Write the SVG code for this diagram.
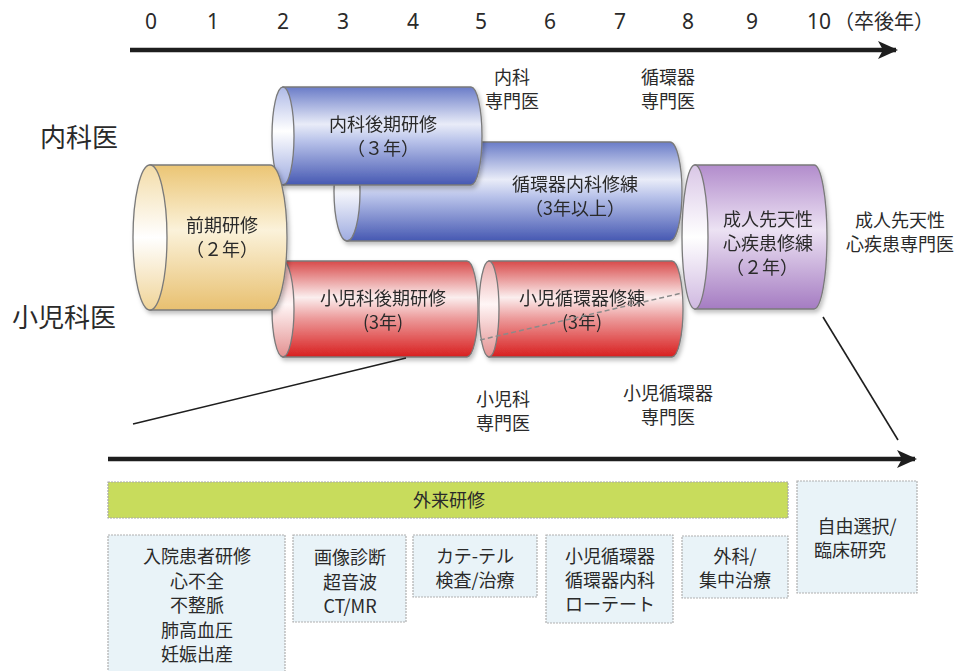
<svg xmlns="http://www.w3.org/2000/svg" width="964" height="671" viewBox="0 0 964 671">
<style>
text{font-family:"Noto Sans CJK JP","Noto Sans",sans-serif;fill:#2a2a2a;text-anchor:middle}
.num{font-size:21px;font-family:"Noto Sans","Liberation Sans",sans-serif}
.lbl{font-size:18px}
.big{font-size:26px;text-anchor:start}
.cyl{stroke:#7a7a7a;stroke-width:1.3}
.box{fill:#e9f3f8;stroke:#b0b0b0;stroke-width:1.2;stroke-dasharray:2 1}
.ax{stroke:#1e1e1e;stroke-width:4.5;fill:none}
.zl{stroke:#1e1e1e;stroke-width:1.6;fill:none}
.dash{stroke:#8a8a8a;stroke-width:1.5;stroke-dasharray:5 3;fill:none}
</style>
<defs>
<linearGradient id="gB" x1="0" y1="0" x2="0" y2="1"><stop offset="0" stop-color="#6a7cc8"/><stop offset="0.38" stop-color="#e9ecf8"/><stop offset="0.55" stop-color="#b9c3ea"/><stop offset="1" stop-color="#4658b2"/></linearGradient>
<linearGradient id="gBf" x1="0" y1="0" x2="0" y2="1"><stop offset="0" stop-color="#aeb9e6"/><stop offset="0.45" stop-color="#ffffff"/><stop offset="1" stop-color="#9eabe0"/></linearGradient>
<linearGradient id="gR" x1="0" y1="0" x2="0" y2="1"><stop offset="0" stop-color="#d84a4a"/><stop offset="0.38" stop-color="#fbeeee"/><stop offset="0.6" stop-color="#ec9a9a"/><stop offset="1" stop-color="#d81e1e"/></linearGradient>
<linearGradient id="gRf" x1="0" y1="0" x2="0" y2="1"><stop offset="0" stop-color="#e8a8a8"/><stop offset="0.45" stop-color="#fff6f6"/><stop offset="1" stop-color="#e39090"/></linearGradient>
<linearGradient id="gY" x1="0" y1="0" x2="0" y2="1"><stop offset="0" stop-color="#ebc574"/><stop offset="0.45" stop-color="#fbf2da"/><stop offset="1" stop-color="#e8c070"/></linearGradient>
<linearGradient id="gYf" x1="0" y1="0" x2="0" y2="1"><stop offset="0" stop-color="#f3dca8"/><stop offset="0.5" stop-color="#ffffff"/><stop offset="1" stop-color="#f0d498"/></linearGradient>
<linearGradient id="gP" x1="0" y1="0" x2="0" y2="1"><stop offset="0" stop-color="#b28ccc"/><stop offset="0.45" stop-color="#ece2f3"/><stop offset="1" stop-color="#a57cc2"/></linearGradient>
<linearGradient id="gPf" x1="0" y1="0" x2="0" y2="1"><stop offset="0" stop-color="#d9c6e6"/><stop offset="0.5" stop-color="#ffffff"/><stop offset="1" stop-color="#cfb8e0"/></linearGradient>
<filter id="sh" x="-5%" y="-5%" width="115%" height="120%"><feDropShadow dx="2" dy="3" stdDeviation="2" flood-color="#000" flood-opacity="0.25"/></filter>
<marker id="ah" viewBox="0 0 20 20" markerUnits="userSpaceOnUse" markerWidth="20" markerHeight="20" refX="18" refY="10" orient="auto"><path d="M0,1 L20,10 L0,19 L5,10 Z" fill="#1e1e1e"/></marker>
</defs>

<g id="axis-labels">
<text class="num" x="151" y="29">0</text>
<text class="num" x="213" y="29">1</text>
<text class="num" x="283" y="29">2</text>
<text class="num" x="343" y="29">3</text>
<text class="num" x="413" y="29">4</text>
<text class="num" x="481" y="29">5</text>
<text class="num" x="550" y="29">6</text>
<text class="num" x="620" y="29">7</text>
<text class="num" x="688" y="29">8</text>
<text class="num" x="752" y="29">9</text>
<text class="num" x="819" y="29">10</text>
<text x="884" y="29" style="font-size:20px">（卒後年）</text>
</g>

<g id="row-labels">
<text class="big" x="40" y="147">内科医</text>
<text class="big" x="12" y="327">小児科医</text>
</g>

<g id="cyl-junkan" filter="url(#sh)">
<path class="cyl" fill="url(#gB)" d="M347,142 H670 A12,49.5 0 0 1 670,241 H347 Z"/>
<ellipse class="cyl" fill="url(#gBf)" cx="347" cy="191.5" rx="13" ry="49.5"/>
<text class="lbl" x="575" y="191">循環器内科修練</text>
<text class="lbl" x="575" y="215">（3年以上）</text>
</g>

<g id="cyl-naika" filter="url(#sh)">
<path class="cyl" fill="url(#gB)" d="M283,87 H471 A11,49 0 0 1 471,185 H283 Z"/>
<ellipse class="cyl" fill="url(#gBf)" cx="283" cy="136" rx="11" ry="49"/>
<text class="lbl" x="383" y="131">内科後期研修</text>
<text class="lbl" x="383" y="155">（３年）</text>
</g>

<g id="cyl-shonika" filter="url(#sh)">
<path class="cyl" fill="url(#gR)" d="M283,261 H467 A11,48 0 0 1 467,357 H283 Z"/>
<ellipse class="cyl" fill="url(#gRf)" cx="283" cy="309" rx="11" ry="48"/>
<text class="lbl" x="383" y="305">小児科後期研修</text>
<text class="lbl" x="383" y="329">(3年)</text>
</g>

<g id="cyl-shoni-junkan" filter="url(#sh)">
<path class="cyl" fill="url(#gR)" d="M489,261 H672 A11,48 0 0 1 672,357 H489 Z"/>
<ellipse class="cyl" fill="url(#gRf)" cx="489" cy="309" rx="10" ry="48"/>
<text class="lbl" x="582" y="305">小児循環器修練</text>
<text class="lbl" x="582" y="329">(3年)</text>
</g>

<g id="cyl-zenki" filter="url(#sh)">
<path class="cyl" fill="url(#gY)" d="M150,165 H270 A17,72.5 0 0 1 270,310 H150 Z"/>
<ellipse class="cyl" fill="url(#gYf)" cx="150" cy="237.5" rx="17" ry="72.5"/>
<text class="lbl" x="222" y="232">前期研修</text>
<text class="lbl" x="222" y="256">（２年）</text>
</g>

<g id="cyl-seijin" filter="url(#sh)">
<path class="cyl" fill="url(#gP)" d="M695,165 H814 A13,72 0 0 1 814,309 H695 Z"/>
<ellipse class="cyl" fill="url(#gPf)" cx="695" cy="237" rx="13" ry="72"/>
<text class="lbl" x="768" y="226">成人先天性</text>
<text class="lbl" x="768" y="250">心疾患修練</text>
<text class="lbl" x="762" y="274">（２年）</text>
</g>

<g id="milestones">
<text class="lbl" x="512" y="84">内科</text>
<text class="lbl" x="512" y="108">専門医</text>
<text class="lbl" x="668" y="84">循環器</text>
<text class="lbl" x="668" y="108">専門医</text>
<text class="lbl" x="900" y="227">成人先天性</text>
<text class="lbl" x="900" y="251">心疾患専門医</text>
<text class="lbl" x="503" y="406">小児科</text>
<text class="lbl" x="503" y="430">専門医</text>
<text class="lbl" x="668" y="400">小児循環器</text>
<text class="lbl" x="668" y="424">専門医</text>
</g>

<g id="connectors">
<line class="ax" x1="130" y1="50" x2="896" y2="50" marker-end="url(#ah)"/>
<line class="ax" x1="108" y1="459" x2="915" y2="459" marker-end="url(#ah)"/>
<line class="zl" x1="406" y1="358" x2="133" y2="424"/>
<line class="zl" x1="823" y1="317" x2="898" y2="440"/>
<line class="dash" x1="480" y1="340" x2="682" y2="293"/>
</g>

<g id="gairai">
<rect x="108" y="482" width="680" height="36" fill="#c8dc5c" stroke="#a8a8a8" stroke-width="1.2" stroke-dasharray="2 1"/>
<text class="lbl" x="449" y="507">外来研修</text>
</g>

<g id="box-nyuin">
<rect class="box" x="108" y="535" width="177" height="150"/>
<text class="lbl" x="197" y="563">入院患者研修</text>
<text class="lbl" x="197" y="588">心不全</text>
<text class="lbl" x="197" y="612">不整脈</text>
<text class="lbl" x="197" y="637">肺高血圧</text>
<text class="lbl" x="197" y="661">妊娠出産</text>
</g>

<g id="box-gazo">
<rect class="box" x="293" y="535" width="113" height="87"/>
<text class="lbl" x="350" y="564">画像診断</text>
<text class="lbl" x="350" y="589">超音波</text>
<text class="lbl" x="350" y="613">CT/MR</text>
</g>

<g id="box-cathe">
<rect class="box" x="413" y="535" width="124" height="62"/>
<text class="lbl" x="475" y="563">カテ-テル</text>
<text class="lbl" x="475" y="587">検査/治療</text>
</g>

<g id="box-rotate">
<rect class="box" x="546" y="535" width="127" height="88"/>
<text class="lbl" x="610" y="563">小児循環器</text>
<text class="lbl" x="610" y="587">循環器内科</text>
<text class="lbl" x="610" y="611">ローテート</text>
</g>

<g id="box-geka">
<rect class="box" x="682" y="536" width="106" height="62"/>
<text class="lbl" x="735" y="563">外科/</text>
<text class="lbl" x="735" y="587">集中治療</text>
</g>

<g id="box-jiyu">
<rect class="box" x="797" y="481" width="120" height="112"/>
<text class="lbl" x="857" y="533">自由選択/</text>
<text class="lbl" x="850" y="557">臨床研究</text>
</g>
</svg>
